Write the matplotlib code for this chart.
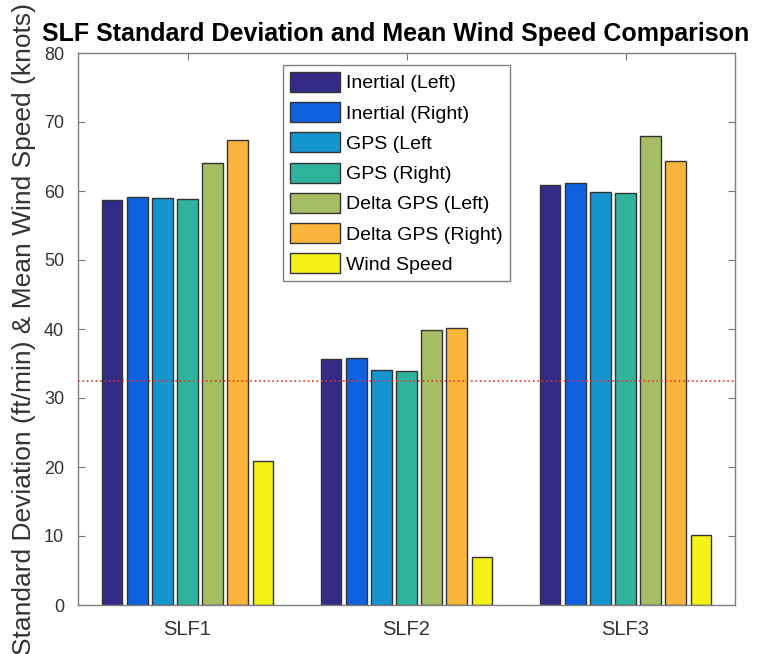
import numpy as np
import matplotlib
matplotlib.use('Agg')
import matplotlib.pyplot as plt

plt.rcParams['font.family'] = ['Liberation Sans', 'DejaVu Sans']

# #### DATA ####
flights = ['SLF1', 'SLF2', 'SLF3']
series = ['Inertial (Left)', 'Inertial (Right)', 'GPS (Left', 'GPS (Right)',
          'Delta GPS (Left)', 'Delta GPS (Right)', 'Wind Speed']
inertial_left = [58.7, 35.6, 60.8]
inertial_right = [59.2, 35.8, 61.1]
gps_left = [59.0, 34.0, 59.9]
gps_right = [58.8, 33.9, 59.7]
delta_left = [64.1, 39.9, 68.0]
delta_right = [67.4, 40.2, 64.4]
wind_speed = [20.9, 6.9, 10.2]
ref_level = 32.5

values = [inertial_left, inertial_right, gps_left, gps_right, delta_left, delta_right, wind_speed]
colors = ['#332b88', '#0f62df', '#1595cf', '#30b39c', '#a5bd63', '#fbb43c', '#f4f216']

fig = plt.figure(figsize=(7.63, 6.54), dpi=100)
ax = fig.add_axes([78 / 763, 1 - 605 / 654, 657 / 763, 552 / 654])

x = np.arange(1, len(flights) + 1)
pitch = 0.115
width = 0.095
n = len(series)
for i in range(n):
    off = (i - (n - 1) / 2) * pitch
    ax.bar(x + off, values[i], width, color=colors[i], edgecolor='#333333',
           linewidth=1.0, label=series[i], zorder=2)

ax.axhline(ref_level, color='#e8322a', linestyle=':', linewidth=1.2, zorder=3)

ax.set_xlim(0.5, 3.5)
ax.set_ylim(0, 80)
ax.set_xticks(x)
ax.set_xticklabels(flights)
ax.set_yticks(np.arange(0, 81, 10))
ax.tick_params(direction='in', top=True, right=True, colors='#777777',
               labelcolor='#333333', length=5, width=0.8)
ax.tick_params(axis='x', labelsize=14.5, pad=11)
ax.tick_params(axis='y', labelsize=13, pad=10)
for sp in ax.spines.values():
    sp.set_color('#808080')
    sp.set_linewidth(1.0)

ax.set_ylabel('Standard Deviation (ft/min) & Mean Wind Speed (knots)', fontsize=19,
              color='#333333', labelpad=6)
ax.set_title('SLF Standard Deviation and Mean Wind Speed Comparison', fontsize=18,
             fontweight='bold', pad=9, x=0.484)

leg = ax.legend(loc='upper left', bbox_to_anchor=(0.312, 0.978), fontsize=14,
                handlelength=2.6, handleheight=1.2, labelspacing=0.5,
                handletextpad=0.3, borderpad=0.35, borderaxespad=0,
                fancybox=False, framealpha=1)
leg.get_frame().set_edgecolor('#808080')
leg.get_frame().set_linewidth(1.0)

plt.savefig('out.png', dpi=100)
